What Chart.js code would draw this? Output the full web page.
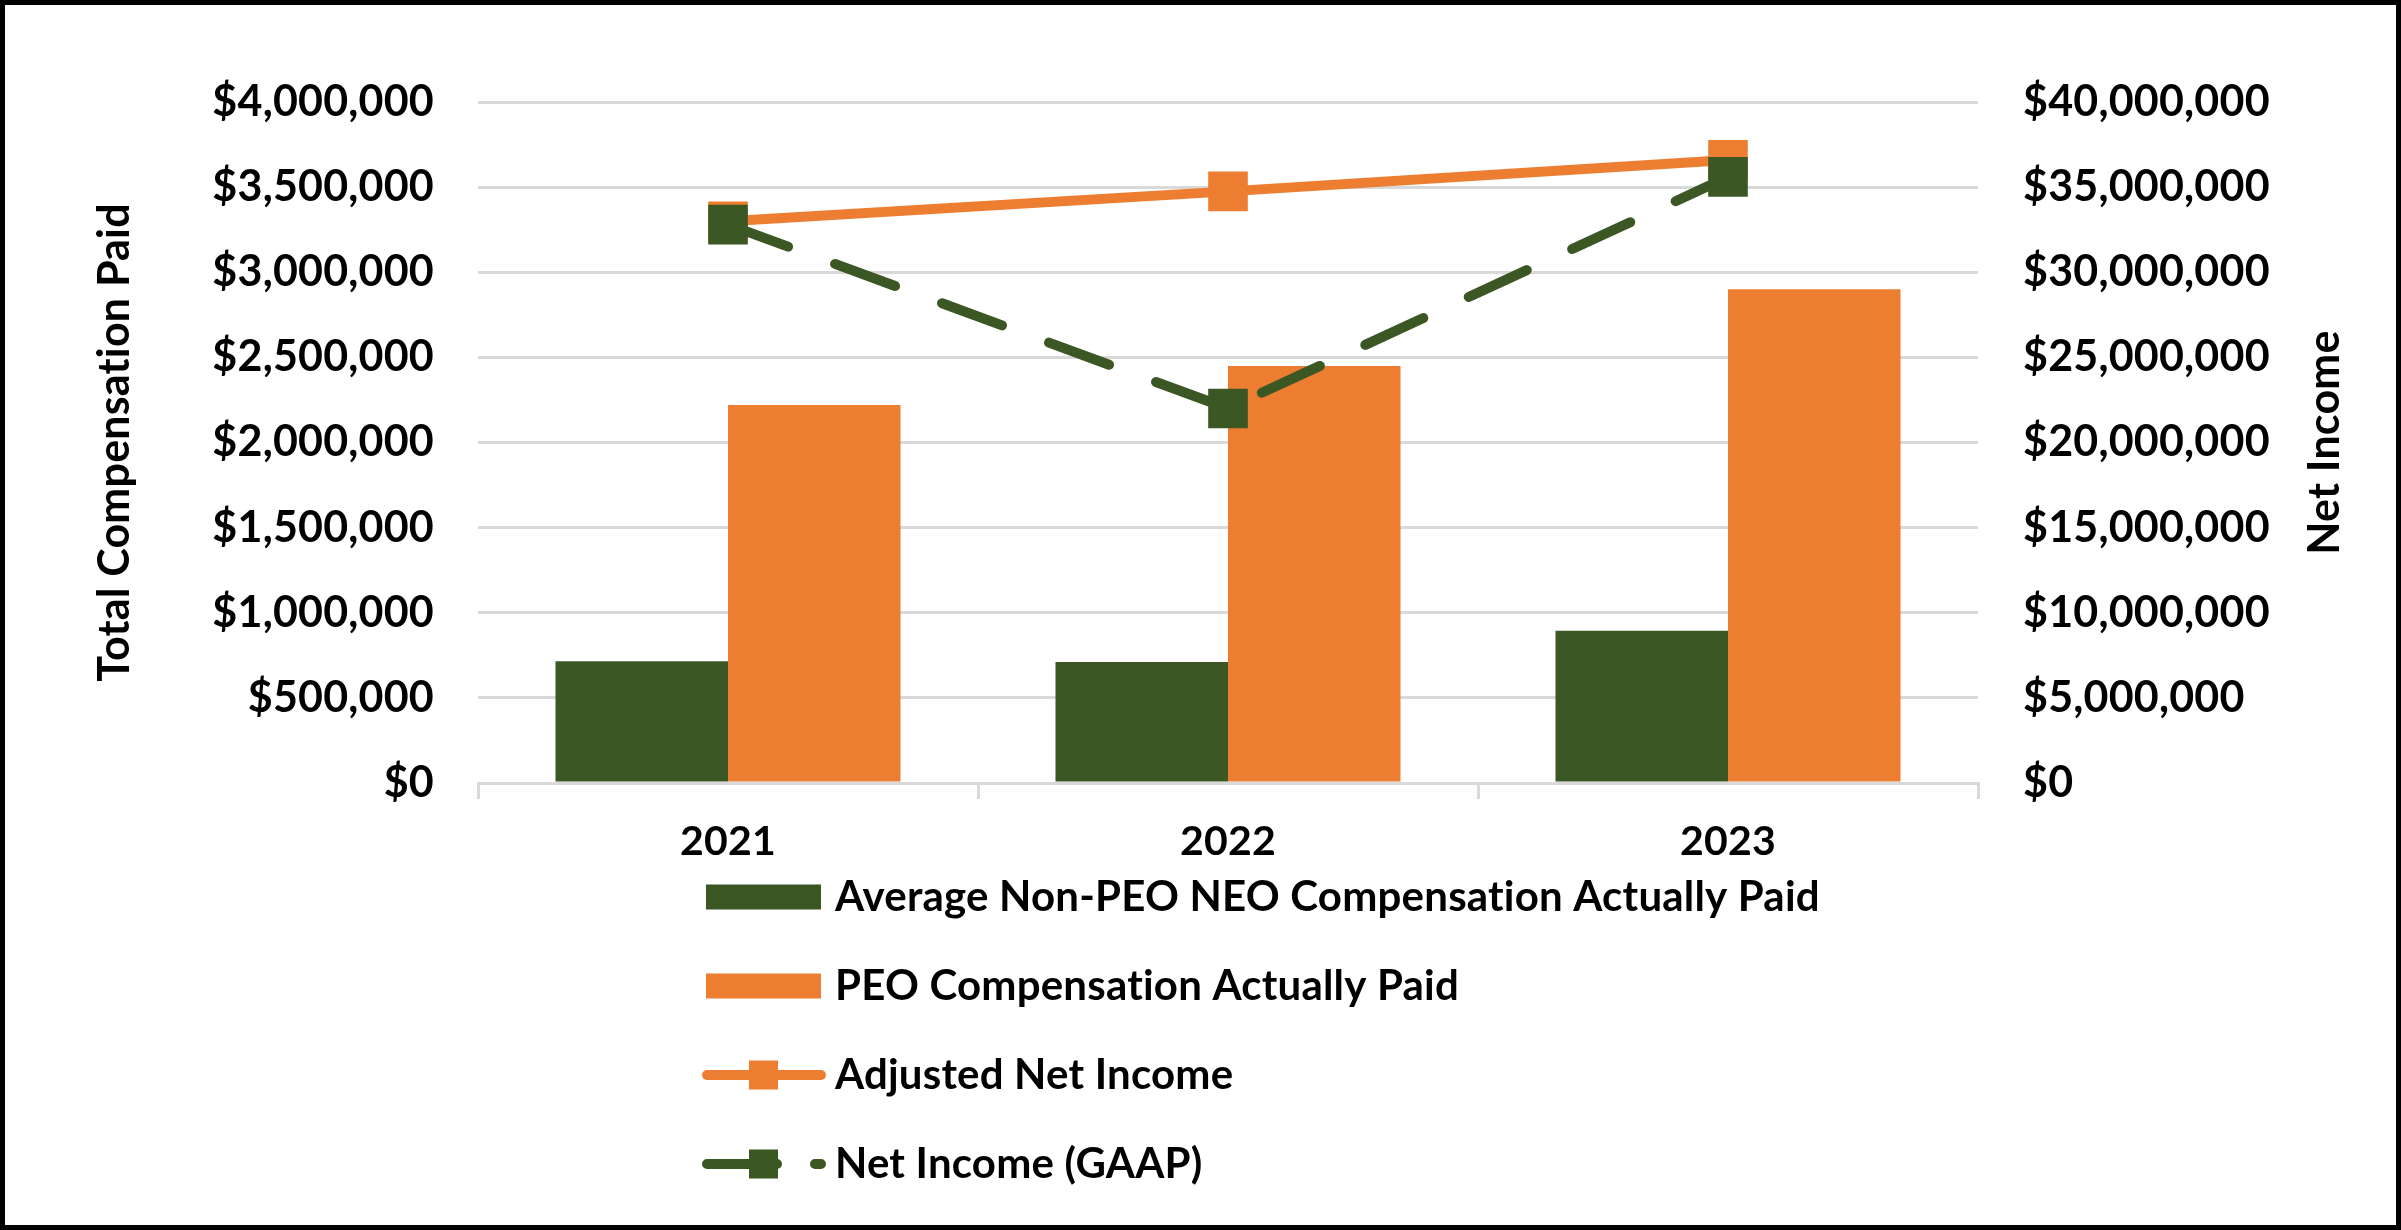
<!DOCTYPE html>
<html>
<head>
<meta charset="utf-8">
<script src="https://cdn.jsdelivr.net/npm/chart.js@4.4.1/dist/chart.umd.min.js"></script>
<style>
  html, body { margin: 0; padding: 0; background: #fff; }
  canvas { display: block; }
</style>
</head>
<body>
<canvas id="chart" width="2401" height="1230"></canvas>
<script>
// data
const years = ['2021', '2022', '2023'];
const neoPaid = [715000, 710000, 895000];
const peoPaid = [2220000, 2450000, 2900000];
const adjustedNetIncome = [33000000, 34750000, 36600000];
const gaapNetIncome = [32800000, 22000000, 35600000];

const leftMax = 4000000, leftStep = 500000;
const rightMax = 40000000, rightStep = 5000000;

const GREEN = '#3a5724';
const ORANGE = '#ed7d31';
const GRID = '#d9d9d9';
const FONT = 'Lato, "Liberation Sans", sans-serif';

const money = v => '$' + Number(v).toLocaleString('en-US');
const boldFont = size => ({ family: FONT, size: size, weight: 'bold' });

// white background + black frame; tiny letter spacing keeps Lato from using its "ti" ligature
const frame = {
  id: 'frame',
  beforeDraw(chart) {
    const ctx = chart.ctx;
    ctx.letterSpacing = '0.2px';
    ctx.save();
    ctx.fillStyle = '#fff';
    ctx.fillRect(0, 0, chart.width, chart.height);
    ctx.restore();
  },
  afterDraw(chart) {
    const ctx = chart.ctx;
    ctx.save();
    ctx.strokeStyle = '#000';
    ctx.lineWidth = 5;
    ctx.strokeRect(2.5, 2.5, chart.width - 5, chart.height - 5);
    ctx.restore();
  }
};

// right axis title reads bottom-to-top like the left one
const rightTitle = {
  id: 'rightTitle',
  afterDraw(chart) {
    const ctx = chart.ctx;
    const area = chart.chartArea;
    ctx.save();
    ctx.letterSpacing = '0.2px';
    ctx.translate(2325, (area.top + area.bottom) / 2);
    ctx.rotate(-Math.PI / 2);
    ctx.font = 'bold 43px ' + FONT;
    ctx.fillStyle = '#000';
    ctx.textAlign = 'center';
    ctx.textBaseline = 'middle';
    ctx.fillText('Net Income', 0, 0);
    ctx.restore();
  }
};

// one-column legend under the axis
const columnLegend = {
  id: 'columnLegend',
  afterDraw(chart) {
    const ctx = chart.ctx;
    const top = 897, rowH = 89;
    ctx.save();
    ctx.letterSpacing = '0.2px';
    ctx.font = 'bold 42px ' + FONT;
    ctx.textBaseline = 'middle';
    chart.data.datasets.forEach((ds, i) => {
      const y = top + i * rowH;
      if (ds.type === 'line') {
        ctx.strokeStyle = ds.borderColor;
        ctx.lineWidth = ds.borderWidth;
        ctx.lineCap = 'round';
        ctx.setLineDash(ds.borderDash ? [70, 38] : []);
        ctx.beginPath();
        ctx.moveTo(707, y);
        ctx.lineTo(821, y);
        ctx.stroke();
        ctx.setLineDash([]);
        ctx.fillStyle = ds.pointBackgroundColor;
        ctx.fillRect(749, y - 14.5, 29, 29);
      } else {
        ctx.fillStyle = ds.backgroundColor;
        ctx.fillRect(706, y - 12.5, 115, 25);
      }
      ctx.fillStyle = '#000';
      ctx.fillText(ds.label, 835, y);
    });
    ctx.restore();
  }
};

new Chart(document.getElementById('chart'), {
  data: {
    labels: years,
    datasets: [
      {
        type: 'bar',
        label: 'Average Non-PEO NEO Compensation Actually Paid',
        data: neoPaid,
        backgroundColor: GREEN,
        yAxisID: 'y',
        order: 2,
        barPercentage: 1.0,
        categoryPercentage: 0.69
      },
      {
        type: 'bar',
        label: 'PEO Compensation Actually Paid',
        data: peoPaid,
        backgroundColor: ORANGE,
        yAxisID: 'y',
        order: 2,
        barPercentage: 1.0,
        categoryPercentage: 0.69
      },
      {
        type: 'line',
        label: 'Adjusted Net Income',
        data: adjustedNetIncome,
        borderColor: ORANGE,
        borderWidth: 10,
        pointStyle: 'rect',
        pointRadius: 28,
        pointBackgroundColor: ORANGE,
        pointBorderWidth: 0,
        yAxisID: 'y1',
        order: 1
      },
      {
        type: 'line',
        label: 'Net Income (GAAP)',
        data: gaapNetIncome,
        borderColor: GREEN,
        borderWidth: 10,
        borderDash: [64, 50],
        borderCapStyle: 'round',
        pointStyle: 'rect',
        pointRadius: 28,
        pointBackgroundColor: GREEN,
        pointBorderWidth: 0,
        yAxisID: 'y1',
        order: 0
      }
    ]
  },
  options: {
    responsive: false,
    animation: false,
    devicePixelRatio: 1,
    layout: { padding: { top: 102, left: 0, right: 0, bottom: 0 } },
    plugins: {
      legend: { display: false },
      tooltip: { enabled: false }
    },
    scales: {
      x: {
        offset: true,
        grid: { display: true, drawOnChartArea: false, drawTicks: true, tickLength: 16, color: GRID, lineWidth: 3 },
        border: { display: true, color: GRID, width: 3 },
        ticks: { font: boldFont(41), color: '#000', padding: 18 },
        afterFit: s => { s.height = 447; }
      },
      y: {
        position: 'left',
        min: 0,
        max: leftMax,
        ticks: { stepSize: leftStep, callback: money, font: boldFont(43), color: '#000', padding: 44 },
        grid: { color: GRID, lineWidth: 3, drawTicks: false },
        border: { display: false },
        title: {
          display: true,
          text: 'Total Compensation Paid',
          font: boldFont(43),
          color: '#000',
          padding: { top: 89, bottom: 0 }
        },
        afterFit: s => { s.width = 478; }
      },
      y1: {
        position: 'right',
        min: 0,
        max: rightMax,
        ticks: { stepSize: rightStep, callback: money, font: boldFont(43), color: '#000', padding: 45 },
        grid: { display: false, drawTicks: false },
        border: { display: false },
        afterFit: s => { s.width = 423; }
      }
    }
  },
  plugins: [frame, rightTitle, columnLegend]
});
</script>
</body>
</html>
